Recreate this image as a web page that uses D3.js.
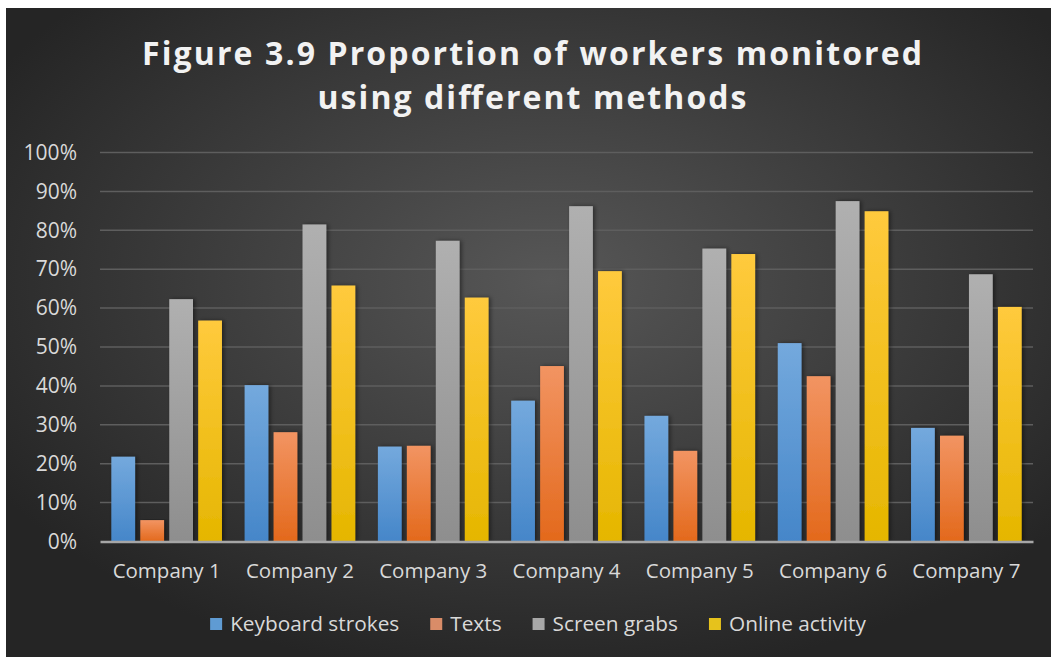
<!DOCTYPE html>
<html>
<head>
<meta charset="utf-8">
<script src="https://cdn.jsdelivr.net/npm/d3@7"></script>
<style>
  html, body { margin: 0; padding: 0; background: #ffffff; }
  svg { display: block; }
</style>
</head>
<body>
<div id="chart"></div>
<script>
// chart data
const companies = ["Company 1", "Company 2", "Company 3", "Company 4", "Company 5", "Company 6", "Company 7"];
const seriesNames = ["Keyboard strokes", "Texts", "Screen grabs", "Online activity"];
const keyboardStrokes = [21.8, 40.2, 24.4, 36.2, 32.3, 51.0, 29.2];
const texts = [5.5, 28.1, 24.6, 45.1, 23.3, 42.5, 27.2];
const screenGrabs = [62.3, 81.5, 77.3, 86.2, 75.3, 87.5, 68.7];
const onlineActivity = [56.8, 65.8, 62.7, 69.5, 73.9, 84.9, 60.3];
const yTicks = [0, 10, 20, 30, 40, 50, 60, 70, 80, 90, 100];
const titleLines = ["Figure 3.9 Proportion of workers monitored", "using different methods"];
const titleWidths = [780, 429];

const values = [keyboardStrokes, texts, screenGrabs, onlineActivity];
const rows = companies.map((c, i) => ({
    company: c,
    vals: seriesNames.map((s, j) => ({ series: s, idx: j, value: values[j][i] }))
}));

const width = 1051, height = 657;
// gradient colours per series: [top, bottom, legend swatch]
const colors = [
    ["#74a9dd", "#4586c9", "#5f9bd3"],
    ["#f29462", "#e3691c", "#d98c68"],
    ["#b0b0b0", "#8e8e8e", "#a8a8a8"],
    ["#ffca3d", "#e5b600", "#e6c21c"]
];

const svg = d3.select("#chart").append("svg")
    .attr("width", width)
    .attr("height", height);

const defs = svg.append("defs");

const bg = defs.append("radialGradient")
    .attr("id", "bg")
    .attr("cx", "52%").attr("cy", "42%").attr("r", "62%");
bg.append("stop").attr("offset", "0%").attr("stop-color", "#575757");
bg.append("stop").attr("offset", "100%").attr("stop-color", "#252525");

colors.forEach((c, j) => {
    const g = defs.append("linearGradient")
        .attr("id", "bar" + j)
        .attr("x1", 0).attr("y1", 0).attr("x2", 0).attr("y2", 1);
    g.append("stop").attr("offset", "0%").attr("stop-color", c[0]);
    g.append("stop").attr("offset", "100%").attr("stop-color", c[1]);
});

const shadow = defs.append("filter").attr("id", "shadow")
    .attr("x", "-20%").attr("y", "-5%").attr("width", "160%").attr("height", "110%");
shadow.append("feDropShadow")
    .attr("dx", 2).attr("dy", 0).attr("stdDeviation", 2)
    .attr("flood-color", "#000").attr("flood-opacity", 0.45);

// background panel
svg.append("rect")
    .attr("x", 6).attr("y", 8)
    .attr("width", width - 6).attr("height", height - 8)
    .attr("fill", "url(#bg)");

const margin = { left: 100, right: 18, top: 152.5, bottom: 115.5 };

const x0 = d3.scaleBand()
    .domain(companies)
    .range([margin.left, width - margin.right])
    .paddingInner(0.17)
    .paddingOuter(0.085);

const x1 = d3.scaleBand()
    .domain(d3.range(seriesNames.length))
    .range([0, x0.bandwidth()])
    .paddingInner(0.18);

const y = d3.scaleLinear()
    .domain([0, 100])
    .range([height - margin.bottom, margin.top]);

// gridlines
svg.append("g")
    .selectAll("line")
    .data(yTicks.filter(t => t > 0))
    .join("line")
    .attr("x1", margin.left)
    .attr("x2", width - margin.right)
    .attr("y1", d => y(d))
    .attr("y2", d => y(d))
    .attr("stroke", "#5e5e5e")
    .attr("stroke-width", 1.5);

// y axis labels
const yAxis = svg.append("g")
    .attr("transform", `translate(${margin.left}, 0)`)
    .call(d3.axisLeft(y).tickValues(yTicks).tickFormat(d => d + "%").tickSize(0).tickPadding(23));
yAxis.select(".domain").remove();
yAxis.selectAll("text")
    .attr("fill", "#d9d9d9")
    .style("font-family", "'Open Sans', sans-serif")
    .style("font-size", "21px");

// bars
svg.append("g")
    .selectAll("g")
    .data(rows)
    .join("g")
    .attr("transform", d => `translate(${x0(d.company)}, 0)`)
    .selectAll("rect")
    .data(d => d.vals)
    .join("rect")
    .attr("x", d => x1(d.idx))
    .attr("y", d => y(d.value))
    .attr("width", x1.bandwidth())
    .attr("height", d => y(0) - y(d.value))
    .attr("fill", d => `url(#bar${d.idx})`)
    .attr("filter", "url(#shadow)");

// x axis
const xAxis = svg.append("g")
    .attr("transform", `translate(0, ${y(0)})`)
    .call(d3.axisBottom(x0).tickSize(0).tickPadding(22));
xAxis.select(".domain")
    .attr("stroke", "#a6a6a6")
    .attr("stroke-width", 2.5);
xAxis.selectAll("text")
    .attr("fill", "#d9d9d9")
    .style("font-family", "'Open Sans', sans-serif")
    .style("font-size", "20.5px");

// title
svg.append("g")
    .selectAll("text")
    .data(titleLines)
    .join("text")
    .attr("x", 532)
    .attr("y", (d, i) => 65 + i * 44)
    .attr("text-anchor", "middle")
    .attr("textLength", (d, i) => titleWidths[i])
    .attr("lengthAdjust", "spacing")
    .attr("fill", "#f2f2f2")
    .style("font-family", "'Open Sans', sans-serif")
    .style("font-weight", "bold")
    .style("font-size", "32px")
    .text(d => d);

// legend
const legend = svg.append("g");
const items = legend.selectAll("g")
    .data(seriesNames)
    .join("g");
items.append("rect")
    .attr("y", 618)
    .attr("width", 12)
    .attr("height", 12)
    .attr("fill", (d, i) => colors[i][2]);
items.append("text")
    .attr("x", 20)
    .attr("y", 631)
    .attr("fill", "#d9d9d9")
    .style("font-family", "'Open Sans', sans-serif")
    .style("font-size", "20.8px")
    .text(d => d);

let offset = 0;
items.each(function() {
    const w = d3.select(this).select("text").node().getComputedTextLength();
    d3.select(this).attr("data-w", offset);
    offset += 20 + w + 31;
});
const total = offset - 31;
const startX = 538 - total / 2;
items.attr("transform", function() {
    return `translate(${startX + (+d3.select(this).attr("data-w"))}, 0)`;
});
</script>
</body>
</html>
